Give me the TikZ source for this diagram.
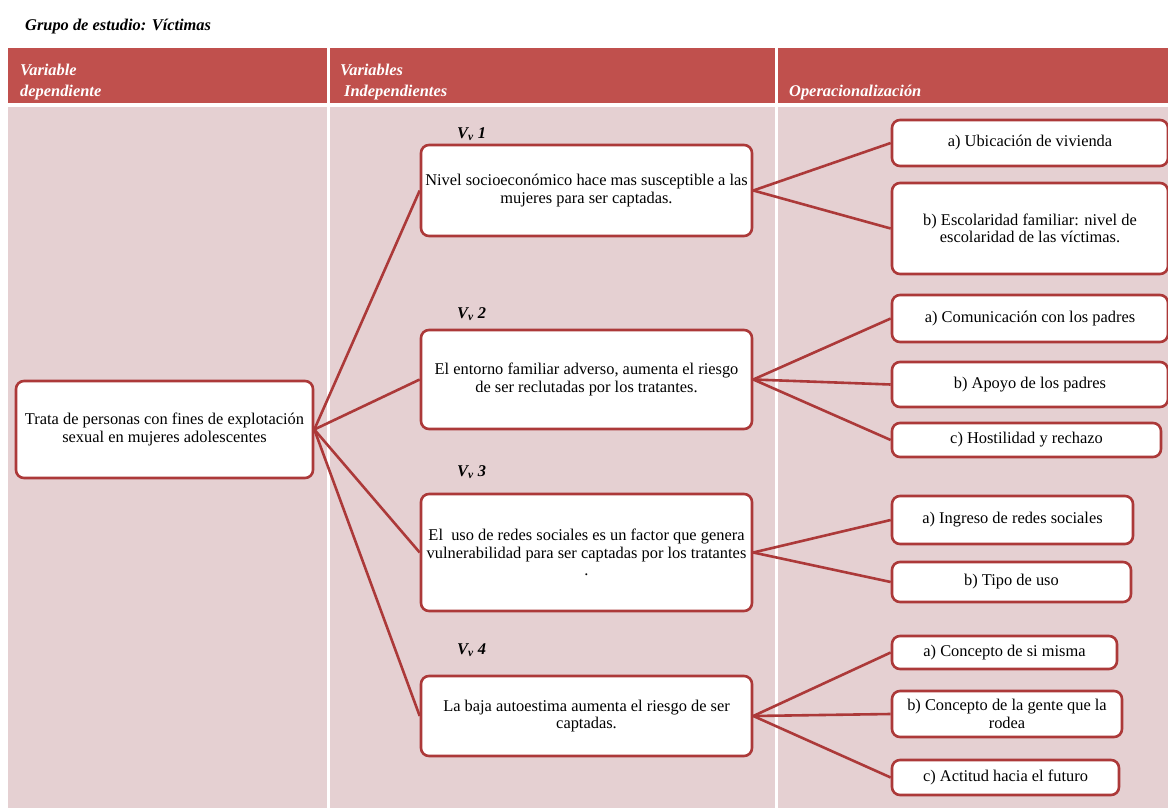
\documentclass[tikz,border=0pt]{standalone}
\usepackage{fontspec}
\setmainfont{Liberation Serif}
\definecolor{headred}{HTML}{C0504D}
\definecolor{bodypink}{RGB}{229,208,210}
\definecolor{linered}{RGB}{172,57,57}
\tikzset{
  box/.style={draw=linered, line width=2.6pt, rounded corners=8pt, fill=white,
    align=center, inner sep=0pt, font=\fontsize{16.4}{17.5}\selectfont},
  conn/.style={draw=linered, line width=2.6pt},
  headtxt/.style={anchor=base west, inner sep=0pt, text=white,
    font=\fontsize{16.4}{17.5}\selectfont\bfseries\itshape},
  vlabel/.style={anchor=base west, inner sep=0pt,
    font=\fontsize{16.4}{17.5}\selectfont\bfseries\itshape},
}
\begin{document}
\begin{tikzpicture}[x=1pt, y=-1pt]
\useasboundingbox (0,0) rectangle (1168,808);
\clip (0,0) rectangle (1168,808);
\fill[white] (0,0) rectangle (1168,808);

% title
\node[vlabel] (title) at (25,31) {Grupo de estudio: Víctimas};

% header row
\fill[headred] (8,48) rectangle (327,103);
\fill[headred] (330,48) rectangle (775,103);
\fill[headred] (778,48) rectangle (1168,103);
\node[headtxt] (h1a) at (20,76) {Variable};
\node[headtxt] (h1b) at (20,96) {dependiente};
\node[headtxt] (h2a) at (340,76) {Variables};
\node[headtxt] (h2b) at (344,96) {Independientes};
\node[headtxt] (h3) at (789,96) {Operacionalización};

% body cells
\fill[bodypink] (8,107) rectangle (327,808);
\fill[bodypink] (330,107) rectangle (775,808);
\fill[bodypink] (778,107) rectangle (1168,808);

% variable labels
\node[vlabel] (l1) at (457,138) {V\textsubscript{v} 1};
\node[vlabel] (l2) at (457,318) {V\textsubscript{v} 2};
\node[vlabel] (l3) at (457,476) {V\textsubscript{v} 3};
\node[vlabel] (l4) at (457,654) {V\textsubscript{v} 4};

% dependent variable
\node[box, minimum width=297, minimum height=97] (dep) at (164.5,429.5)
  {Trata de personas con fines de explotación\\sexual en mujeres adolescentes};

% independent variables
\node[box, minimum width=331, minimum height=91] (v1) at (586.5,190.5)
  {Nivel socioeconómico hace mas susceptible a las\\mujeres para ser captadas.};
\node[box, minimum width=331, minimum height=99] (v2) at (586.5,379.5)
  {El entorno familiar adverso, aumenta el riesgo\\de ser reclutadas por los tratantes.};
\node[box, minimum width=331, minimum height=117] (v3) at (586.5,552.5)
  {El\ \ uso de redes sociales es un factor que genera\\vulnerabilidad para ser captadas por los tratantes\\.};
\node[box, minimum width=331, minimum height=80] (v4) at (586.5,716)
  {La baja autoestima aumenta el riesgo de ser\\captadas.};

% operationalisation
\node[box, minimum width=276, minimum height=46] (r1a) at (1030,143) {a) Ubicación de vivienda};
\node[box, minimum width=276, minimum height=91] (r1b) at (1030,228.5)
  {b) Escolaridad familiar: nivel de\\escolaridad de las víctimas.};
\node[box, minimum width=276, minimum height=47] (r2a) at (1030,318.5) {a) Comunicación con los padres};
\node[box, minimum width=276, minimum height=45] (r2b) at (1030,384.5) {b) Apoyo de los padres};
\node[box, minimum width=269, minimum height=34] (r2c) at (1026.5,440) {c) Hostilidad y rechazo};
\node[box, minimum width=241, minimum height=48] (r3a) at (1012.5,520) {a) Ingreso de redes sociales};
\node[box, minimum width=239, minimum height=40] (r3b) at (1011.5,582) {b) Tipo de uso};
\node[box, minimum width=225, minimum height=33] (r4a) at (1004.5,652.5) {a) Concepto de si misma};
\node[box, minimum width=230, minimum height=46] (r4b) at (1007,714) {b) Concepto de la gente que la\\rodea};
\node[box, minimum width=227, minimum height=35] (r4c) at (1005.5,777.5) {c) Actitud hacia el futuro};

% connectors
\draw[conn] (dep.east) -- (v1.west);
\draw[conn] (dep.east) -- (v2.west);
\draw[conn] (dep.east) -- (v3.west);
\draw[conn] (dep.east) -- (v4.west);
\draw[conn] (v1.east) -- (r1a.west);
\draw[conn] (v1.east) -- (r1b.west);
\draw[conn] (v2.east) -- (r2a.west);
\draw[conn] (v2.east) -- (r2b.west);
\draw[conn] (v2.east) -- (r2c.west);
\draw[conn] (v3.east) -- (r3a.west);
\draw[conn] (v3.east) -- (r3b.west);
\draw[conn] (v4.east) -- (r4a.west);
\draw[conn] (v4.east) -- (r4b.west);
\draw[conn] (v4.east) -- (r4c.west);
\end{tikzpicture}
\end{document}
